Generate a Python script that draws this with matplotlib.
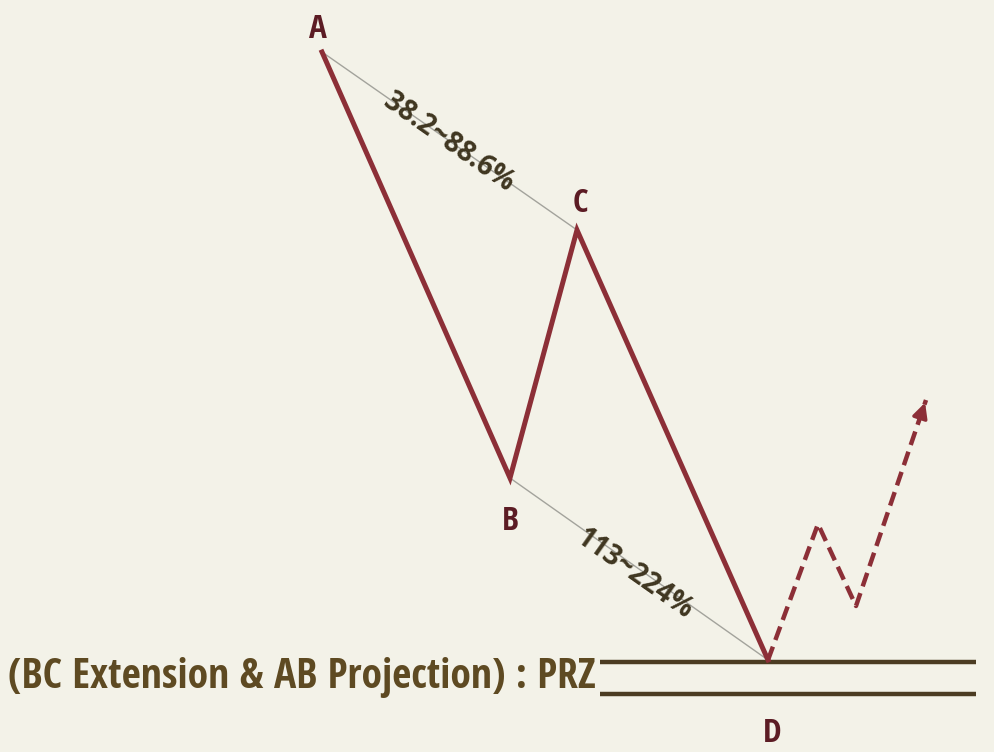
import matplotlib
matplotlib.use("Agg")
import matplotlib.pyplot as plt
from matplotlib import font_manager
from matplotlib.font_manager import FontProperties
import numpy as np

# ---- data (pixel-space coordinates) ----
point_labels = ["A", "B", "C", "D"]
point_x = [322, 510, 577, 768]
point_y = [52, 478, 230, 660]

proj_x = [768, 818, 856, 926]
proj_y = [660, 524, 606, 400]

ratio_ac = "38.2~88.6%"
ratio_bd = "113~224%"
prz_label = "(BC Extension & AB Projection) : PRZ"
prz_y = [662, 694]
prz_x = [600, 976]

label_pos = {"A": (318, 30), "B": (510, 521), "C": (580, 203), "D": (772, 733)}

# ---- styling ----
bg = "#f3f2e8"
maroon = "#8c2f37"
label_col = "#5c1c24"
brown = "#4b3c22"
text_brown = "#5e4a22"


def cond_font(size):
    for f in font_manager.fontManager.ttflist:
        if f.fname.endswith("OpenSans-CondBold.ttf"):
            return FontProperties(fname=f.fname, size=size)
    return FontProperties(family="Roboto Condensed", weight="bold", size=size)


fig = plt.figure(figsize=(9.94, 7.52), dpi=100, facecolor=bg)
ax = fig.add_axes([0, 0, 1, 1])
ax.set_facecolor(bg)
ax.set_xlim(0, 994)
ax.set_ylim(752, 0)
ax.axis("off")

# PRZ lines
for yy in prz_y:
    ax.plot(prz_x, [yy, yy], color=brown, lw=3.2, solid_capstyle="butt", zorder=2)

# thin reference lines A-C and B-D
ax.plot([point_x[0], point_x[2]], [point_y[0], point_y[2]], color="#a3a39c", lw=1.0, zorder=1)
ax.plot([point_x[1], point_x[3]], [point_y[1], point_y[3]], color="#a3a39c", lw=1.0, zorder=1)

# main ABCD path
ax.plot(point_x, point_y, color=maroon, lw=3.6, solid_joinstyle="miter", zorder=3)

# dashed projection
ax.plot(proj_x, proj_y, color=maroon, lw=3.2, dashes=(3.2, 1.6), zorder=3)
ax.annotate("", xy=(proj_x[-1], proj_y[-1]),
            xytext=(proj_x[-1] - (proj_x[-1] - proj_x[-2]) * 0.12,
                    proj_y[-1] - (proj_y[-1] - proj_y[-2]) * 0.12),
            arrowprops=dict(arrowstyle="-|>,head_length=0.9,head_width=0.45", color=maroon, lw=2.5),
            zorder=4)

# point labels
for name in point_labels:
    lx, ly = label_pos[name]
    ax.text(lx, ly, name, fontproperties=cond_font(24), color=label_col,
            ha="center", va="center", zorder=5)

# ratio labels rotated along the lines
def angle(p, q):
    return -np.degrees(np.arctan2(q[1] - p[1], q[0] - p[0]))

a_ac = angle((point_x[0], point_y[0]), (point_x[2], point_y[2]))
a_bd = angle((point_x[1], point_y[1]), (point_x[3], point_y[3]))
rfont = FontProperties(family="Open Sans", weight="bold", size=20)
ax.text(449, 142, ratio_ac, fontproperties=rfont, color="#3f3620",
        rotation=a_ac, rotation_mode="anchor", ha="center", va="center", zorder=5)
ax.text(634, 574, ratio_bd, fontproperties=rfont, color="#3f3620",
        rotation=a_bd, rotation_mode="anchor", ha="center", va="center", zorder=5)

# PRZ label
ax.text(8, 677, prz_label, fontproperties=cond_font(30), color=text_brown,
        ha="left", va="center", zorder=5)

fig.savefig("out.png", dpi=100, facecolor=bg)
